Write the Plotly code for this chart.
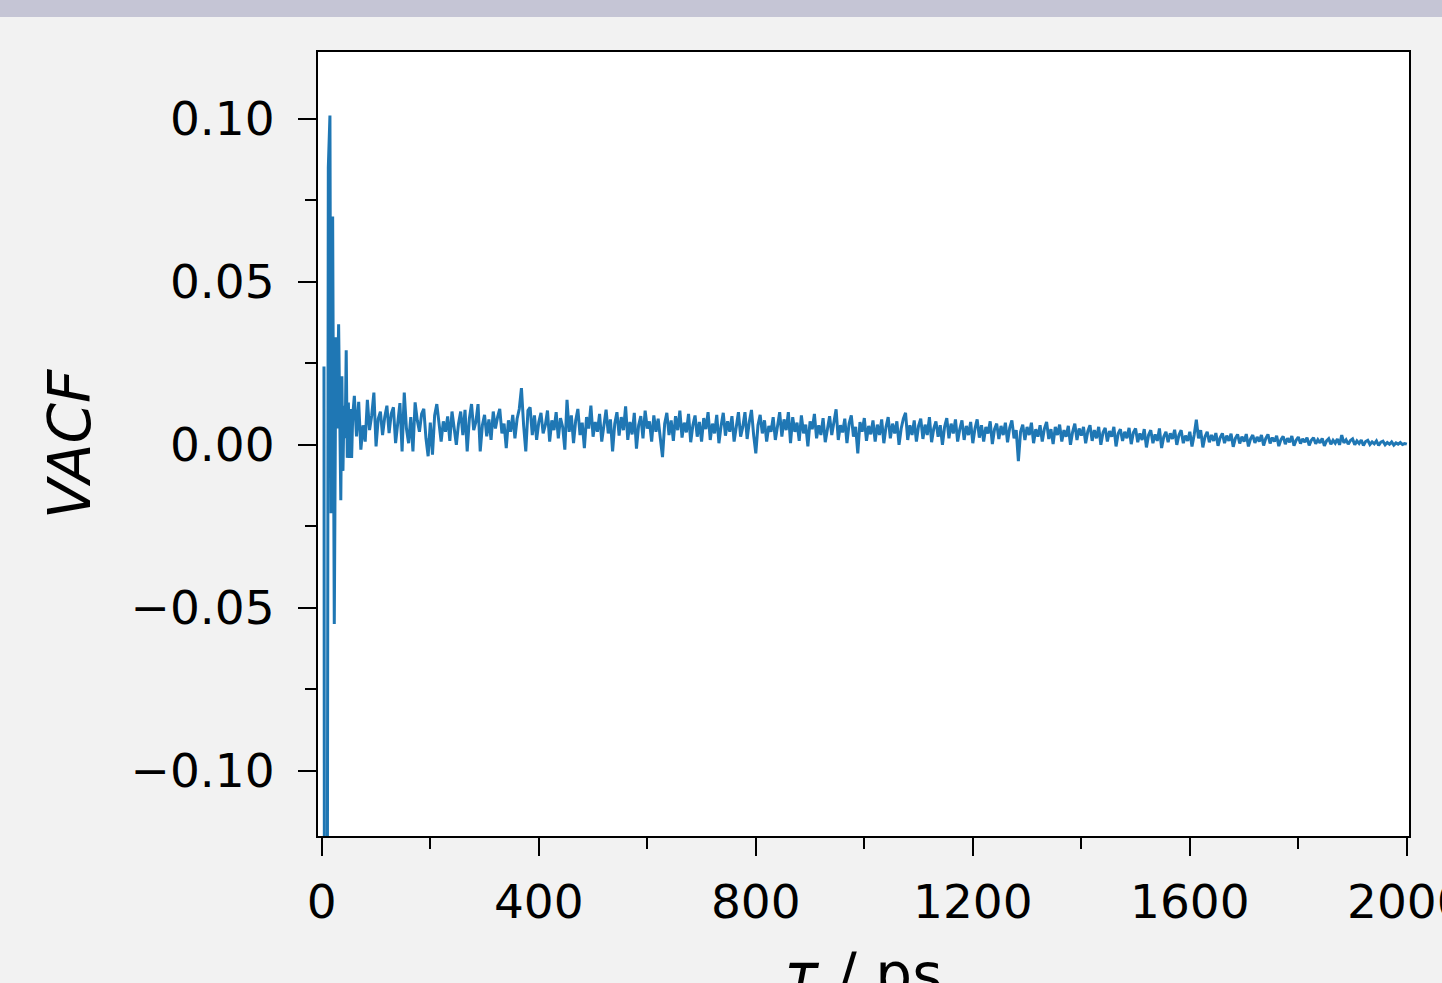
import numpy as np
import plotly.graph_objects as go

# ---- data ----
t_early = [4, 6, 9, 12, 15, 17, 20, 23, 26, 28, 31, 33, 35, 37, 39, 41, 43, 45, 47, 49, 51, 53, 55, 57]
vacf_early = [0.024, -0.40, -0.30, 0.085, 0.101, -0.021, 0.070, -0.055, 0.033, 0.005, 0.037, 0.000,
              -0.017, 0.021, -0.008, 0.012, 0.002, 0.029, -0.004, 0.013, -0.004, 0.011, -0.004, 0.009]

t_main = np.arange(60, 2001, 4)
vacf_main = [
    0.0150, 0.0026, 0.0132, -0.0015, 0.0060, 0.0010, 0.0138, 0.0045, 0.0090, 0.0160,
    -0.0005, 0.0080, 0.0102, 0.0030, 0.0085, 0.0120, 0.0036, 0.0095, 0.0115, 0.0005,
    0.0070, 0.0128, -0.0020, 0.0160, 0.0050, 0.0005, 0.0085, -0.0020, 0.0130, 0.0075,
    0.0040, 0.0095, 0.0110, 0.0020, -0.0035, 0.0068, -0.0030, 0.0090, 0.0125, 0.0060,
    0.0010, 0.0072, 0.0040, 0.0087, 0.0012, 0.0102, 0.0055, 0.0000, 0.0065, 0.0102,
    0.0030, 0.0107, -0.0020, 0.0080, 0.0125, 0.0045, 0.0070, 0.0125, -0.0020, 0.0060,
    0.0092, 0.0026, 0.0078, 0.0015, 0.0102, 0.0050, 0.0085, 0.0110, 0.0035, 0.0065,
    -0.0010, 0.0075, 0.0040, 0.0092, 0.0020, 0.0080, 0.0110, 0.0174, 0.0060, -0.0020,
    0.0105, 0.0115, 0.0030, 0.0090, 0.0015, 0.0070, 0.0098, 0.0035, 0.0060, 0.0105,
    0.0010, 0.0075, 0.0045, 0.0100, 0.0020, 0.0082, 0.0055, -0.0015, 0.0138, 0.0040,
    0.0090, 0.0005, 0.0075, 0.0110, 0.0030, 0.0068, -0.0010, 0.0085, 0.0050, 0.0120,
    0.0025, 0.0070, 0.0040, 0.0095, 0.0010, 0.0062, 0.0108, 0.0035, 0.0078, -0.0020,
    0.0065, 0.0100, 0.0028, 0.0085, 0.0045, 0.0118, 0.0015, 0.0070, 0.0032, 0.0098,
    -0.0012, 0.0060, 0.0088, 0.0020, 0.0105, 0.0050, 0.0072, 0.0010, 0.0090, 0.0040,
    0.0080, 0.0020, -0.0038, 0.0065, 0.0098, 0.0030, 0.0075, 0.0012, 0.0088, 0.0045,
    0.0105, 0.0022, 0.0068, 0.0038, 0.0095, 0.0008, 0.0060, 0.0090, 0.0025, 0.0070,
    0.0010, 0.0082, 0.0048, 0.0100, 0.0015, 0.0065, 0.0035, 0.0092, 0.0005, 0.0058,
    0.0098, 0.0028, 0.0072, 0.0040, 0.0088, 0.0010, 0.0062, 0.0100, 0.0025, 0.0055,
    0.0100, 0.0018, 0.0070, 0.0107, 0.0030, -0.0026, 0.0060, 0.0092, 0.0035, 0.0075,
    0.0010, 0.0058, 0.0040, 0.0085, 0.0015, 0.0065, 0.0100, 0.0025, 0.0078, 0.0045,
    0.0100, 0.0005, 0.0085, 0.0040, 0.0068, 0.0012, 0.0090, 0.0035, 0.0062, -0.0005,
    0.0072, 0.0048, 0.0095, 0.0020, 0.0060, 0.0030, 0.0082, 0.0008, 0.0055, 0.0088,
    0.0030, 0.0070, 0.0109, 0.0015, 0.0060, 0.0038, 0.0080, 0.0005, 0.0065, 0.0090,
    0.0025, 0.0055, -0.0026, 0.0070, 0.0040, 0.0082, 0.0012, 0.0058, 0.0032, 0.0075,
    0.0010, 0.0062, 0.0030, 0.0078, 0.0005, 0.0055, 0.0085, 0.0020, 0.0065, 0.0035,
    0.0072, 0.0000, 0.0050, 0.0080, 0.0098, 0.0015, 0.0060, 0.0030, 0.0075, 0.0010,
    0.0058, 0.0080, 0.0018, 0.0062, 0.0030, 0.0085, 0.0008, 0.0050, 0.0072, 0.0025,
    0.0060, 0.0000, 0.0055, 0.0082, 0.0020, 0.0065, 0.0035, 0.0078, 0.0010, 0.0048,
    0.0075, 0.0015, 0.0058, 0.0030, 0.0070, 0.0005, 0.0050, 0.0078, 0.0022, 0.0060,
    0.0010, 0.0055, 0.0035, 0.0072, 0.0002, 0.0048, 0.0065, 0.0018, 0.0058, 0.0030,
    0.0068, 0.0008, 0.0052, 0.0075, 0.0020, 0.0045, -0.0050, 0.0040, 0.0062, 0.0015,
    0.0055, 0.0030, 0.0068, 0.0005, 0.0048, 0.0025, 0.0060, 0.0010, 0.0050, 0.0070,
    0.0018, 0.0048, 0.0002, 0.0055, 0.0030, 0.0062, 0.0010, 0.0045, 0.0025, 0.0058,
    0.0000, 0.0040, 0.0065, 0.0015, 0.0050, 0.0028, 0.0055, 0.0005, 0.0042, 0.0060,
    0.0012, 0.0045, 0.0020, 0.0055, 0.0000, 0.0038, 0.0052, 0.0010, 0.0042, 0.0025,
    0.0055, -0.0005, 0.0035, 0.0048, 0.0012, 0.0040, 0.0020, 0.0052, 0.0002, 0.0038,
    0.0050, 0.0008, 0.0035, 0.0015, 0.0048, -0.0008, 0.0030, 0.0045, 0.0005, 0.0032,
    0.0012, 0.0050, -0.0010, 0.0025, 0.0040, 0.0008, 0.0035, 0.0018, 0.0046, 0.0000,
    0.0030, 0.0045, 0.0005, 0.0028, 0.0012, 0.0040, -0.0005, 0.0030, 0.0077, 0.0020,
    0.0045, -0.0008, 0.0025, 0.0040, 0.0008, 0.0030, 0.0012, 0.0036, -0.0003, 0.0022,
    0.0035, 0.0005, 0.0028, 0.0012, 0.0034, -0.0006, 0.0020, 0.0032, 0.0004, 0.0025,
    0.0010, 0.0033, -0.0005, 0.0018, 0.0030, 0.0006, 0.0024, 0.0010, 0.0030, -0.0002,
    0.0020, 0.0032, 0.0004, 0.0022, 0.0010, 0.0028, -0.0004, 0.0016, 0.0026, 0.0002,
    0.0020, 0.0008, 0.0027, -0.0003, 0.0014, 0.0024, 0.0004, 0.0018, 0.0008, 0.0022,
    -0.0002, 0.0014, 0.0022, 0.0003, 0.0016, 0.0006, 0.0020, -0.0003, 0.0012, 0.0019,
    0.0002, 0.0014, 0.0005, 0.0018, 0.0000, 0.0030, 0.0006, 0.0015, 0.0002, 0.0013,
    0.0018, 0.0000, 0.0012, 0.0004, 0.0015, -0.0002, 0.0010, 0.0014, 0.0001, 0.0009,
    0.0003, 0.0012, -0.0002, 0.0008, 0.0011, 0.0000, 0.0007, 0.0002, 0.0009, -0.0001,
    0.0006, 0.0002, 0.0007, 0.0001, 0.0004, 0.0002,
]
assert len(vacf_main) == len(t_main)

x_ticks = [0, 400, 800, 1200, 1600, 2000]
x_tick_labels = ["0", "400", "800", "1200", "1600", "2000"]
x_minor = [200, 600, 1000, 1400, 1800]
y_ticks = [-0.10, -0.05, 0.00, 0.05, 0.10]
y_tick_labels = ["\u22120.10", "\u22120.05", "0.00", "0.05", "0.10"]
y_minor = [-0.075, -0.025, 0.025, 0.075]

t_all = list(t_early) + list(t_main)
v_all = list(vacf_early) + list(vacf_main)

W, H = 1442, 983
L, R, T, B = 318, 1409, 52, 836
FS = 47

fig = go.Figure()
fig.add_trace(go.Scatter(x=t_all, y=v_all, mode="lines",
                         line=dict(color="#1f77b4", width=3.0), showlegend=False,
                         hoverinfo="skip"))

font_family = "DejaVu Sans"
axis_common = dict(showline=True, mirror=True, linecolor="black", linewidth=2,
                   ticks="outside", ticklen=18, tickwidth=2, tickcolor="black",
                   showgrid=False, zeroline=False,
                   tickfont=dict(family=font_family, size=FS, color="black"))

# the last x label ("2000") would be dropped by plotly because it runs past the
# figure edge, so only 0..1600 are drawn as axis labels and 2000 as an annotation
fig.update_xaxes(range=[-7, 2004], tickmode="array", tickvals=x_ticks,
                 ticktext=x_tick_labels[:-1] + [""],
                 ticklabelstandoff=6,
                 minor=dict(tickmode="array", tickvals=x_minor, ticklen=11, tickwidth=2,
                            tickcolor="black", ticks="outside", showgrid=False),
                 **axis_common)
fig.update_yaxes(range=[-0.12, 0.1205], tickmode="array", tickvals=y_ticks, ticktext=y_tick_labels,
                 ticklabelstandoff=14,
                 minor=dict(tickmode="array", tickvals=y_minor, ticklen=11, tickwidth=2,
                            tickcolor="black", ticks="outside", showgrid=False),
                 **axis_common)

pw, ph = R - L, B - T
def px(xp):
    return (xp - L) / pw
def py(yp):
    return (B - yp) / ph

fig.update_layout(
    width=W, height=H,
    margin=dict(l=L, r=W - R, t=T, b=H - B, pad=0, autoexpand=False),
    paper_bgcolor="#f2f2f2", plot_bgcolor="white",
    font=dict(family=font_family, color="black"),
    shapes=[dict(type="rect", xref="paper", yref="paper", x0=px(-5), x1=px(W + 5),
                 y0=py(17), y1=py(-5), fillcolor="#c5c5d5", line=dict(width=0), layer="above")],
    annotations=[
        dict(text="<i>VACF</i>", textangle=-90, xref="paper", yref="paper",
             x=px(70), y=py(444), xanchor="center", yanchor="middle", showarrow=False,
             font=dict(family=font_family, size=58, color="black")),
        dict(text="<i>\u03c4</i> / ps", xref="paper", yref="paper",
             x=px(863), y=py(975), xanchor="center", yanchor="middle", showarrow=False,
             font=dict(family=font_family, size=58, color="black")),
        dict(text=x_tick_labels[-1], xref="x", yref="paper",
             x=x_ticks[-1], y=py(901), xanchor="center", yanchor="middle", showarrow=False,
             font=dict(family=font_family, size=FS, color="black")),
    ],
)

fig.write_html("out.html", config={"displayModeBar": False},
               post_script="document.body.style.margin='0';")
